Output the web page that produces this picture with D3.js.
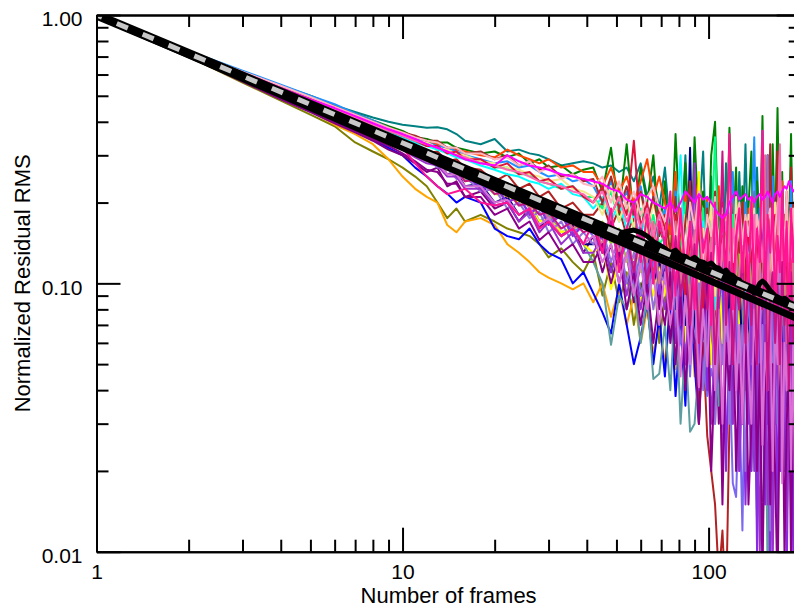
<!DOCTYPE html>
<html>
<head>
<meta charset="utf-8">
<script src="https://cdn.jsdelivr.net/npm/d3@7"></script>
<style>
  body { margin: 0; background: #fff; }
  svg { display: block; font-family: "Liberation Sans", Arial, sans-serif; }
</style>
</head>
<body>
<svg id="chart" width="794" height="613"></svg>
<script>
// frames at which the residual rms was sampled
const frames = [1,2,3,4,5,6,7,8,9,10,
  11,12,13,14,15,16,18,20,22,24,26,28,30,33,36,39,
  42,45,48,51,54,57,60,63,66,69,
  72,75,78,81,84,87,90,93,96,99,102,105,108,111,114,117,120,123,126,129,132,135,
  138,141,144,147,150,153,156,159,162,165,168,171,174,177,180,183,186,189,192,195,198,201];

// normalized residual rms, one array per run
const runs = [
  [1,.725,.61,.545,.495,.46,.435,.415,.4,.39,
   .385,.38,.382,.375,.36,.34,.33,.345,.31,.315,.305,.3,.29,.275,.28,.285,
   .28,.27,.275,.26,.27,.24,.28,.21,.25,.19,
   .27,.16,.24,.13,.3,.12,.22,.17,.31,.1,.25,.14,.2,.09,.28,.15,.21,.11,.26,.13,.33,.12,
   .19,.09,.27,.14,.22,.08,.3,.12,.2,.16,.35,.1,.24,.13,.18,.07,.29,.11,.23,.15,.2,.12],
  [1,.73,.615,.545,.5,.46,.43,.405,.385,.37,
   .35,.345,.335,.335,.32,.315,.305,.31,.295,.305,.28,.29,.27,.275,.255,.265,
   .27,.22,.32,.18,.33,.17,.27,.2,.3,.15,
   .24,.11,.36,.14,.28,.1,.35,.16,.22,.09,.3,.4,.13,.2,.1,.38,.15,.27,.09,.23,.12,.19,
   .31,.1,.24,.13,.42,.11,.2,.08,.33,.14,.45,.12,.26,.09,.21,.15,.36,.1,.25,.13,.2,.17],
  [1,.7,.56,.48,.425,.385,.335,.31,.29,.27,
   .25,.23,.2,.175,.19,.17,.18,.17,.16,.155,.15,.14,.125,.135,.12,.11,
   .13,.09,.12,.085,.11,.07,.1,.08,.12,.06,
   .09,.13,.06,.1,.14,.07,.11,.05,.09,.12,.06,.1,.04,.08,.11,.05,.09,.13,.06,.1,.04,.07,
   .11,.05,.09,.03,.07,.12,.05,.08,.025,.06,.1,.04,.08,.02,.06,.09,.04,.07,.03,.05,.08,.04],
  [1,.71,.57,.49,.44,.39,.36,.33,.29,.25,
   .225,.21,.2,.165,.155,.17,.175,.165,.14,.13,.12,.11,.105,.1,.095,.1,
   .085,.1,.075,.095,.07,.09,.06,.08,.055,.07,
   .05,.085,.048,.1,.06,.09,.045,.08,.11,.05,.07,.04,.09,.06,.1,.04,.07,.05,.12,.035,.08,.06,
   .04,.09,.03,.07,.05,.1,.035,.06,.08,.03,.07,.045,.09,.025,.06,.04,.08,.03,.05,.07,.035,.06],
  [1,.71,.575,.495,.445,.405,.37,.345,.32,.3,
   .27,.25,.23,.216,.2,.21,.2,.16,.15,.146,.16,.14,.13,.123,.1,.11,
   .092,.078,.065,.1,.07,.05,.063,.085,.05,.075,
   .045,.09,.038,.07,.035,.1,.05,.03,.08,.04,.11,.06,.035,.09,.05,.12,.04,.07,.03,.08,.05,.1,
   .04,.07,.025,.09,.05,.12,.03,.06,.1,.04,.075,.02,.05,.09,.035,.07,.11,.04,.06,.03,.08,.05],
  [1,.7,.565,.485,.435,.395,.365,.34,.315,.3,
   .28,.26,.27,.23,.24,.21,.22,.19,.2,.17,.19,.16,.18,.15,.165,.13,
   .15,.11,.14,.1,.13,.085,.12,.09,.14,.08,
   .12,.06,.1,.13,.05,.09,.11,.04,.08,.12,.05,.09,.03,.07,.1,.04,.08,.06,.11,.03,.07,.05,
   .09,.03,.07,.02,.06,.1,.04,.08,.015,.05,.09,.03,.06,.02,.07,.04,.1,.03,.05,.02,.06,.04],
  [1,.72,.595,.52,.465,.43,.4,.375,.355,.335,
   .32,.305,.31,.285,.29,.27,.265,.24,.255,.225,.235,.21,.22,.19,.2,.18,
   .18,.2,.16,.19,.15,.18,.13,.17,.12,.16,
   .14,.09,.16,.07,.12,.05,.1,.03,.06,.027,.02,.015,.008,.012,.006,.03,.07,.12,.05,.1,.16,.08,
   .2,.11,.17,.09,.24,.12,.3,.1,.19,.14,.31,.11,.18,.08,.22,.13,.27,.1,.16,.12,.2,.09],
  [1,.73,.61,.54,.495,.455,.425,.4,.38,.36,
   .35,.335,.33,.32,.315,.31,.3,.295,.315,.3,.29,.28,.29,.27,.275,.26,
   .26,.23,.27,.22,.25,.2,.24,.29,.21,.25,
   .2,.15,.26,.13,.22,.11,.19,.25,.12,.21,.09,.17,.23,.1,.18,.14,.24,.09,.16,.2,.11,.19,
   .13,.22,.09,.17,.26,.1,.15,.21,.08,.14,.19,.11,.24,.09,.16,.12,.21,.08,.15,.11,.18,.13],
  [1,.715,.585,.51,.46,.42,.39,.365,.345,.33,
   .31,.29,.29,.265,.27,.245,.24,.215,.225,.195,.2,.17,.18,.155,.16,.14,
   .12,.1,.059,.09,.08,.1,.06,.09,.044,.046,
   .07,.04,.09,.03,.06,.028,.03,.05,.08,.04,.1,.06,.035,.09,.05,.11,.04,.07,.03,.08,.05,.06,
   .02,.04,.013,.03,.01,.05,.008,.04,.07,.03,.09,.04,.06,.02,.08,.05,.1,.03,.06,.04,.07,.05],
  [1,.735,.62,.55,.5,.465,.43,.405,.38,.36,
   .345,.335,.325,.32,.31,.3,.29,.28,.285,.27,.275,.26,.25,.255,.24,.245,
   .23,.2,.24,.19,.22,.18,.23,.17,.21,.16,
   .19,.12,.22,.11,.17,.24,.1,.16,.13,.2,.09,.18,.12,.23,.1,.15,.26,.11,.17,.08,.2,.13,
   .16,.35,.1,.19,.12,.22,.09,.15,.25,.11,.18,.08,.21,.13,.17,.1,.24,.12,.16,.09,.2,.14],
  [1,.715,.59,.515,.46,.425,.395,.37,.35,.33,
   .31,.295,.29,.265,.27,.24,.245,.215,.21,.2,.195,.17,.175,.155,.16,.14,
   .13,.14,.095,.12,.1,.13,.085,.11,.09,.12,
   .09,.13,.07,.11,.06,.1,.08,.26,.07,.1,.05,.09,.12,.06,.11,.04,.08,.1,.06,.13,.05,.09,
   .07,.11,.05,.09,.13,.06,.1,.04,.08,.12,.05,.09,.07,.11,.04,.08,.1,.06,.09,.05,.12,.07],
  [1,.725,.605,.535,.485,.445,.415,.39,.37,.355,
   .335,.33,.315,.31,.3,.295,.285,.27,.27,.255,.255,.24,.235,.225,.23,.21,
   .21,.19,.22,.17,.2,.16,.19,.15,.18,.14,
   .15,.11,.17,.13,.2,.1,.16,.12,.19,.09,.14,.35,.11,.16,.09,.14,.18,.1,.15,.12,.17,.09,
   .13,.18,.1,.15,.12,.2,.09,.14,.11,.17,.08,.13,.16,.1,.19,.12,.14,.09,.17,.11,.15,.12],
  [1,.725,.6,.53,.475,.44,.41,.385,.365,.35,
   .335,.325,.315,.305,.295,.29,.275,.265,.255,.25,.24,.235,.225,.235,.215,.21,
   .19,.21,.17,.2,.16,.18,.15,.19,.14,.17,
   .14,.1,.16,.3,.11,.15,.09,.13,.17,.1,.14,.08,.12,.16,.1,.13,.09,.15,.11,.18,.08,.13,
   .11,.15,.08,.13,.17,.1,.12,.09,.14,.11,.16,.28,.1,.13,.08,.12,.15,.09,.11,.14,.1,.12],
  [1,.715,.59,.515,.46,.425,.395,.37,.35,.33,
   .31,.3,.28,.28,.255,.26,.235,.24,.21,.22,.19,.2,.17,.18,.16,.165,
   .16,.17,.14,.16,.12,.15,.11,.14,.1,.13,
   .12,.15,.1,.13,.09,.14,.11,.08,.12,.1,.15,.09,.13,.11,.08,.12,.14,.1,.13,.09,.11,.12,
   .1,.13,.08,.12,.14,.09,.11,.13,.08,.12,.1,.14,.09,.11,.07,.12,.1,.13,.08,.11,.09,.12],
  [1,.71,.58,.505,.455,.415,.385,.36,.34,.32,
   .3,.285,.285,.255,.26,.23,.235,.2,.21,.18,.19,.165,.17,.15,.16,.14,
   .14,.15,.11,.14,.1,.12,.09,.13,.1,.12,
   .1,.14,.08,.12,.07,.32,.06,.1,.13,.05,.11,.04,.09,.12,.06,.1,.04,.08,.11,.05,.09,.07,
   .06,.1,.04,.08,.3,.05,.09,.03,.07,.1,.05,.08,.12,.04,.07,.1,.05,.08,.03,.06,.09,.05],
  [1,.715,.585,.51,.455,.42,.39,.365,.345,.33,
   .315,.295,.3,.27,.265,.255,.23,.235,.2,.215,.18,.2,.17,.18,.155,.165,
   .15,.13,.16,.12,.14,.1,.13,.09,.12,.1,
   .12,.08,.11,.06,.09,.045,.1,.07,.05,.038,.048,.04,.07,.03,.025,.05,.018,.016,.04,.012,.06,.09,
   .05,.11,.04,.08,.37,.06,.12,.04,.09,.03,.1,.06,.13,.05,.08,.03,.1,.06,.08,.04,.07,.05],
  [1,.71,.58,.505,.45,.415,.385,.36,.34,.325,
   .305,.3,.275,.275,.25,.255,.225,.23,.2,.21,.18,.195,.165,.18,.15,.165,
   .17,.13,.18,.12,.16,.11,.17,.1,.15,.09,
   .15,.08,.18,.07,.14,.06,.12,.05,.16,.04,.1,.03,.08,.12,.02,.07,.03,.1,.02,.06,.015,.05,
   .02,.08,.01,.05,.33,.015,.06,.008,.04,.09,.012,.07,.02,.05,.008,.04,.07,.01,.05,.02,.06,.03],
  [1,.725,.605,.535,.485,.45,.42,.395,.375,.355,
   .34,.335,.32,.315,.305,.3,.285,.28,.27,.265,.255,.25,.24,.245,.225,.22,
   .21,.18,.23,.17,.21,.16,.22,.15,.2,.16,
   .17,.12,.2,.11,.18,.14,.22,.1,.16,.13,.2,.09,.15,.19,.12,.17,.1,.21,.13,.16,.11,.18,
   .14,.19,.1,.16,.21,.12,.17,.09,.15,.2,.11,.16,.13,.18,.1,.15,.19,.12,.16,.1,.14,.17],
  [1,.725,.61,.54,.49,.455,.425,.4,.38,.365,
   .355,.34,.34,.32,.32,.305,.31,.29,.3,.275,.285,.265,.275,.25,.255,.24,
   .245,.2,.25,.19,.23,.18,.22,.17,.21,.16,
   .18,.13,.21,.11,.17,.24,.12,.16,.09,.19,.13,.22,.1,.15,.12,.18,.09,.16,.13,.2,.1,.17,
   .12,.16,.09,.14,.11,.19,.13,.33,.12,.17,.1,.15,.13,.18,.09,.14,.12,.2,.1,.15,.13,.17],
  [1,.725,.605,.53,.48,.445,.415,.39,.37,.355,
   .34,.325,.325,.305,.31,.29,.29,.27,.28,.255,.26,.24,.245,.225,.23,.21,
   .2,.23,.18,.21,.18,.34,.16,.2,.14,.19,
   .16,.1,.18,.13,.09,.15,.11,.19,.08,.14,.1,.17,.12,.2,.09,.15,.11,.18,.08,.14,.1,.16,
   .12,.09,.14,.11,.32,.1,.15,.08,.13,.18,.09,.14,.11,.17,.08,.13,.1,.16,.07,.12,.15,.1],
  [1,.71,.58,.5,.45,.415,.385,.36,.34,.32,
   .3,.295,.27,.27,.245,.25,.22,.225,.19,.2,.175,.185,.155,.17,.14,.155,
   .14,.16,.12,.15,.1,.13,.09,.12,.08,.11,
   .1,.13,.07,.11,.05,.09,.06,.1,.04,.08,.12,.03,.07,.05,.09,.03,.06,.1,.04,.07,.02,.05,
   .09,.03,.06,.02,.07,.04,.3,.012,.05,.08,.03,.06,.02,.07,.04,.09,.015,.05,.03,.06,.02,.04],
  [1,.705,.575,.5,.445,.41,.38,.355,.335,.315,
   .295,.28,.275,.25,.25,.225,.225,.195,.2,.17,.185,.155,.17,.14,.155,.13,
   .13,.15,.11,.14,.09,.12,.08,.11,.13,.1,
   .08,.12,.06,.1,.05,.09,.28,.04,.07,.1,.03,.06,.09,.02,.05,.08,.03,.06,.02,.05,.07,.03,
   .08,.02,.05,.01,.04,.07,.015,.05,.009,.04,.06,.02,.03,.07,.012,.04,.06,.02,.05,.008,.03,.05],
  [1,.715,.59,.515,.46,.425,.395,.37,.35,.33,
   .31,.305,.28,.285,.255,.265,.235,.24,.21,.22,.19,.2,.175,.185,.16,.17,
   .16,.14,.18,.13,.16,.11,.15,.12,.17,.1,
   .14,.09,.17,.1,.14,.08,.16,.07,.12,.1,.15,.06,.11,.14,.08,.18,.07,.13,.1,.15,.06,.12,
   .09,.14,.06,.12,.08,.3,.05,.1,.13,.07,.12,.04,.09,.15,.06,.11,.08,.13,.05,.1,.12,.07],
  [1,.7,.57,.49,.44,.4,.37,.345,.325,.305,
   .285,.265,.26,.235,.235,.21,.21,.18,.19,.16,.17,.145,.155,.13,.14,.12,
   .12,.14,.1,.13,.08,.11,.07,.1,.06,.09,
   .07,.11,.05,.09,.04,.08,.06,.03,.07,.1,.02,.05,.08,.015,.06,.04,.09,.02,.05,.03,.07,.015,
   .03,.07,.02,.05,.008,.04,.06,.015,.05,.02,.007,.04,.06,.01,.03,.05,.009,.04,.02,.06,.012,.03],
  [1,.71,.58,.505,.45,.415,.385,.36,.34,.32,
   .3,.285,.28,.255,.255,.23,.23,.2,.205,.18,.19,.165,.175,.15,.16,.14,
   .15,.12,.14,.1,.13,.09,.12,.08,.11,.07,
   .11,.07,.1,.045,.09,.05,.11,.041,.08,.049,.12,.04,.08,.03,.09,.05,.1,.04,.07,.03,.09,.05,
   .03,.08,.05,.1,.025,.06,.04,.08,.02,.07,.05,.3,.018,.06,.04,.08,.02,.06,.016,.05,.08,.03],
  [1,.73,.615,.545,.495,.455,.425,.4,.38,.365,
   .35,.34,.335,.32,.32,.305,.305,.29,.295,.275,.285,.26,.27,.245,.255,.235,
   .23,.25,.2,.24,.19,.22,.18,.21,.23,.19,
   .17,.21,.14,.19,.13,.2,.16,.22,.12,.18,.15,.21,.13,.19,.16,.23,.12,.17,.2,.14,.18,.15,
   .2,.13,.18,.15,.21,.12,.17,.19,.11,.16,.2,.13,.18,.14,.22,.12,.16,.19,.13,.17,.15,.18],
  [1,.725,.605,.53,.48,.445,.415,.39,.37,.355,
   .34,.33,.32,.31,.3,.295,.28,.275,.265,.26,.25,.24,.235,.23,.22,.215,
   .2,.22,.18,.21,.17,.2,.16,.19,.15,.18,
   .15,.19,.12,.17,.11,.16,.13,.2,.1,.15,.12,.18,.09,.14,.17,.11,.16,.13,.19,.1,.15,.12,
   .14,.18,.1,.15,.12,.17,.09,.14,.16,.11,.15,.33,.1,.13,.16,.09,.14,.12,.17,.1,.13,.15],
  [1,.715,.59,.51,.46,.425,.395,.37,.35,.33,
   .31,.295,.29,.265,.265,.24,.245,.215,.22,.195,.2,.18,.185,.16,.17,.155,
   .16,.13,.17,.12,.15,.11,.16,.1,.14,.12,
   .13,.08,.15,.09,.12,.07,.14,.06,.11,.08,.13,.05,.1,.31,.07,.12,.05,.1,.08,.13,.06,.11,
   .07,.12,.05,.1,.08,.13,.04,.09,.11,.06,.1,.05,.12,.07,.09,.04,.11,.06,.1,.05,.08,.07],
  [1,.715,.59,.515,.46,.425,.395,.37,.345,.32,
   .28,.25,.23,.215,.22,.225,.2,.195,.2,.18,.19,.16,.17,.15,.16,.14,
   .17,.13,.19,.11,.16,.2,.12,.18,.1,.17,
   .14,.22,.09,.19,.11,.17,.08,.21,.13,.16,.07,.2,.12,.18,.1,.36,.08,.15,.19,.11,.17,.09,
   .21,.1,.16,.12,.37,.09,.18,.13,.2,.08,.15,.11,.22,.1,.17,.07,.19,.12,.16,.09,.2,.13],
  [1,.73,.61,.535,.485,.45,.42,.395,.375,.36,
   .345,.33,.32,.31,.3,.29,.28,.275,.3,.285,.275,.27,.265,.255,.25,.245,
   .24,.235,.225,.22,.205,.2,.215,.21,.2,.195,
   .19,.2,.185,.2,.22,.21,.2,.215,.205,.21,.2,.19,.18,.175,.18,.2,.21,.22,.205,.21,.215,.205,
   .21,.2,.21,.215,.205,.21,.22,.21,.2,.215,.22,.21,.22,.23,.225,.24,.23,.22,.225,.23,.22,.23]
];

const runColors = ["#008080","#008000","#808000","#FFA500","#0000FF","#800080",
  "#B22222","#FF4500","#5F9EA0","#1E90FF","#FFFF00","#00FF7F","#00FFFF","#9ACD32",
  "#000080","#7B68EE","#8A2BE2","#F0E68C","#A52A2A","#DC143C","#9370DB","#9932CC",
  "#DB7093","#8B008B","#DA70D6","#FFB6C1","#FF69B4","#C71585","#FF1493","#FF00FF"];

// average over all runs
const meanRms = [1,.71,.585,.51,.46,.42,.39,.365,.345,.33,
  .315,.302,.29,.28,.27,.262,.248,.236,.225,.215,.207,.2,.195,.188,.18,.172,
  .165,.162,.158,.154,.156,.158,.155,.15,.143,.139,
  .135,.13,.133,.127,.126,.122,.125,.121,.12,.117,.119,.115,.114,.11,.112,.108,.107,.104,.103,.1,.099,.095,
  .094,.092,.095,.1,.102,.1,.097,.094,.092,.09,.089,.088,.087,.088,.087,.085,.083,.082,.081,.08,.079,.078];

// power-law fit and 1/sqrt(N) reference, end points
const fitEnds = [[1, 1.0], [200, 0.080]];
const sqrtEnds = [[1, 1.0], [200, 0.073]];

const xMajor = [1, 10, 100];
const xMinor = [2,3,4,5,6,7,8,9,20,30,40,50,60,70,80,90,200];
const yMajor = [0.01, 0.1, 1];
const yMinor = [.02,.03,.04,.05,.06,.07,.08,.09,.2,.3,.4,.5,.6,.7,.8,.9];

var margin = {top: 15, left: 96.5};
var plotW = 704.2, plotH = 536.7;

var x = d3.scaleLog().domain([1, 200]).range([margin.left, margin.left + plotW]);
var y = d3.scaleLog().domain([0.01, 1]).range([margin.top + plotH, margin.top]);

var svg = d3.select("#chart");

svg.append("clipPath").attr("id", "plotclip")
  .append("rect")
  .attr("x", margin.left).attr("y", margin.top)
  .attr("width", plotW).attr("height", plotH);

var line = d3.line()
  .x(function(d) { return x(d[0]); })
  .y(function(d) { return y(d[1]); });

var plot = svg.append("g").attr("clip-path", "url(#plotclip)");

runs.forEach(function(vals, i) {
  if (vals.length != frames.length) console.warn("run " + i + " has " + vals.length);
  plot.append("path")
    .datum(d3.zip(frames, vals))
    .attr("d", line)
    .attr("fill", "none")
    .attr("stroke", runColors[i])
    .attr("stroke-width", 2)
    .attr("stroke-linejoin", "round");
});

// 1/sqrt(N)
plot.append("path").datum(sqrtEnds).attr("d", line)
  .attr("fill", "none").attr("stroke", "#000").attr("stroke-width", 7);

// mean of the runs
plot.append("path").datum(d3.zip(frames, meanRms)).attr("d", line)
  .attr("fill", "none").attr("stroke", "#000").attr("stroke-width", 5)
  .attr("stroke-linejoin", "round");

// fit: black under grey dashes
plot.append("path").datum(fitEnds).attr("d", line)
  .attr("fill", "none").attr("stroke", "#000").attr("stroke-width", 9);
plot.append("path").datum(fitEnds).attr("d", line)
  .attr("fill", "none").attr("stroke", "#c8c8c8").attr("stroke-width", 5)
  .attr("stroke-dasharray", "12,16").attr("stroke-dashoffset", 6);

// axes
function styleAxis(g) {
  g.attr("font-size", 21).attr("font-family", "Liberation Sans, Arial, sans-serif");
  g.select(".domain").attr("stroke", "#000").attr("stroke-width", 2);
  g.selectAll(".tick line").attr("stroke", "#000").attr("stroke-width", 2);
  g.selectAll(".tick text").attr("fill", "#000");
}

var bottom = margin.top + plotH, right = margin.left + plotW;

svg.append("g").attr("transform", "translate(0," + bottom + ")")
  .call(d3.axisBottom(x).tickValues(xMajor).tickSize(-24).tickSizeOuter(0)
    .tickPadding(12).tickFormat(d3.format("d")))
  .call(styleAxis);
svg.append("g").attr("transform", "translate(0," + bottom + ")")
  .call(d3.axisBottom(x).tickValues(xMinor).tickSize(-12).tickSizeOuter(0).tickFormat(""))
  .call(styleAxis);

svg.append("g").attr("transform", "translate(0," + margin.top + ")")
  .call(d3.axisTop(x).tickValues(xMajor).tickSize(-24).tickSizeOuter(0).tickFormat(""))
  .call(styleAxis);
svg.append("g").attr("transform", "translate(0," + margin.top + ")")
  .call(d3.axisTop(x).tickValues(xMinor).tickSize(-12).tickSizeOuter(0).tickFormat(""))
  .call(styleAxis);

var yAxis = svg.append("g").attr("transform", "translate(" + margin.left + ",0)")
  .call(d3.axisLeft(y).tickValues(yMajor).tickSize(-24).tickSizeOuter(0)
    .tickPadding(14).tickFormat(d3.format(".2f")))
  .call(styleAxis);
yAxis.selectAll(".tick text").attr("dy", "0.52em");
svg.append("g").attr("transform", "translate(" + margin.left + ",0)")
  .call(d3.axisLeft(y).tickValues(yMinor).tickSize(-12).tickSizeOuter(0).tickFormat(""))
  .call(styleAxis);

svg.append("g").attr("transform", "translate(" + right + ",0)")
  .call(d3.axisRight(y).tickValues(yMajor).tickSize(-24).tickSizeOuter(0).tickFormat(""))
  .call(styleAxis);
svg.append("g").attr("transform", "translate(" + right + ",0)")
  .call(d3.axisRight(y).tickValues(yMinor).tickSize(-12).tickSizeOuter(0).tickFormat(""))
  .call(styleAxis);

// titles
svg.append("text")
  .attr("x", (margin.left + right) / 2)
  .attr("y", 603)
  .attr("text-anchor", "middle")
  .attr("font-size", 22)
  .text("Number of frames");

svg.append("text")
  .attr("transform", "translate(30," + (margin.top + plotH / 2) + ") rotate(-90)")
  .attr("text-anchor", "middle")
  .attr("font-size", 22)
  .text("Normalized Residual RMS");
</script>
</body>
</html>
